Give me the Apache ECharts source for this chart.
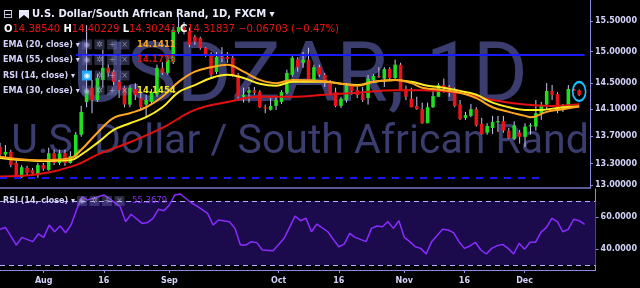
<!DOCTYPE html>
<html><head><meta charset="utf-8">
<script src="https://cdn.jsdelivr.net/npm/echarts@6/dist/echarts.min.js"></script>
<style>html,body{margin:0;padding:0;background:#000;}#c{width:640px;height:288px;}</style>
</head><body><div id="c"></div>
<script>
// ---------- data ----------
const opens  = [13.54,13.43,13.47,13.31,13.11,13.24,13.21,13.14,13.28,13.21,13.45,13.31,13.45,13.31,13.40,13.72,14.21,14.43,14.24,14.55,
14.74,14.68,14.52,14.43,14.17,14.41,14.27,14.17,14.21,14.32,14.74,14.66,14.83,15.32,15.40,15.32,15.24,15.22,15.06,14.95,
14.675,14.91,14.91,14.90,14.63,14.29,14.35,14.39,14.36,14.13,14.09,14.15,14.21,14.35,14.63,14.87,14.82,14.87,14.55,14.75,
14.63,14.50,14.36,14.15,14.24,14.46,14.39,14.33,14.27,14.55,14.61,14.57,14.72,14.58,14.79,14.41,14.26,14.15,14.10,13.89,
14.13,14.29,14.47,14.44,14.39,14.17,13.97,14.00,14.10,13.88,13.75,13.82,13.91,13.92,13.78,13.66,13.75,13.69,13.85,13.84,
14.04,14.17,14.38,14.33,14.10,14.15,14.41,14.3854];
const highs  = [13.60,13.57,13.50,13.35,13.28,13.27,13.24,13.31,13.31,13.53,13.50,13.50,13.50,13.48,13.76,14.15,15.43,14.55,14.64,15.03,
14.79,14.71,14.55,14.46,14.47,14.50,14.35,14.32,14.41,14.79,14.83,14.95,15.40,15.57,15.48,15.39,15.27,15.24,15.07,14.99,
14.99,15.07,14.99,14.93,14.66,14.43,14.44,14.44,14.39,14.17,14.27,14.29,14.39,14.71,14.95,14.91,14.99,15.06,14.79,14.79,
14.66,14.55,14.43,14.29,14.50,14.47,14.44,14.44,14.63,14.64,14.75,14.75,14.75,14.87,14.82,14.46,14.43,14.29,14.20,14.20,
14.43,14.50,14.57,14.47,14.43,14.24,14.06,14.18,14.13,13.97,13.89,14.00,14.00,14.00,13.82,13.92,13.79,13.89,13.89,14.24,
14.21,14.50,14.47,14.36,14.18,14.47,14.43,14.40229];
const lows   = [13.40,13.38,13.25,13.10,13.10,13.14,13.13,13.10,13.20,13.20,13.28,13.28,13.27,13.30,13.38,13.69,14.13,14.04,14.21,14.43,
14.60,14.47,14.27,14.13,14.13,14.24,14.09,13.97,14.18,14.29,14.63,14.63,14.80,15.29,15.28,15.07,15.11,15.03,14.91,14.60,
14.64,14.83,14.82,14.60,14.26,14.20,14.20,14.32,14.12,14.04,14.08,14.09,14.18,14.33,14.60,14.68,14.74,14.55,14.52,14.60,
14.44,14.32,14.13,14.12,14.20,14.32,14.27,14.21,14.17,14.50,14.58,14.44,14.55,14.55,14.38,14.24,14.13,14.09,13.88,13.89,
14.12,14.29,14.35,14.29,14.13,13.94,13.94,13.98,13.84,13.72,13.72,13.73,13.76,13.75,13.66,13.64,13.59,13.54,13.72,13.78,
13.94,14.09,14.24,14.04,14.06,14.13,14.38,14.30241];
const closes = [13.43,13.47,13.28,13.11,13.25,13.17,13.16,13.28,13.23,13.45,13.31,13.45,13.31,13.41,13.72,14.06,14.39,14.24,14.58,14.74,
14.66,14.52,14.39,14.17,14.43,14.32,14.13,14.24,14.36,14.74,14.66,14.87,15.35,15.40,15.32,15.11,15.16,15.06,14.95,14.63,
14.913,14.90,14.88,14.63,14.29,14.32,14.39,14.35,14.13,14.12,14.15,14.24,14.36,14.66,14.90,14.75,14.87,14.55,14.75,14.63,
14.50,14.35,14.15,14.26,14.46,14.38,14.32,14.24,14.57,14.61,14.60,14.72,14.58,14.79,14.39,14.29,14.13,14.10,13.89,14.13,
14.30,14.47,14.44,14.38,14.15,13.95,14.01,14.10,13.86,13.73,13.85,13.91,13.92,13.78,13.67,13.86,13.69,13.84,13.86,14.04,
14.15,14.38,14.32,14.09,14.15,14.41,14.38,14.31837];
// EMA readings: [candle index, value]
const ema20 = [[0,13.40],[7,13.35],[13,13.38],[15,13.50],[18,13.75],[21,13.97],[24,14.04],[27,14.13],[30,14.29],[33,14.52],[36,14.68],[39,14.75],[42,14.79],[45,14.68],[48,14.55],[51,14.50],[54,14.55],[60,14.53],[63,14.49],[66,14.46],[69,14.52],[73,14.55],[76,14.50],[78,14.43],[82,14.39],[85,14.35],[88,14.27],[91,14.13],[94,14.06],[97,14.00],[98,13.98],[101,14.06],[104,14.10],[107,14.1411]];
const ema30 = [[0,13.38],[7,13.34],[13,13.35],[15,13.43],[18,13.60],[21,13.79],[24,13.89],[27,13.98],[30,14.13],[33,14.36],[36,14.47],[39,14.58],[42,14.63],[45,14.58],[48,14.49],[51,14.46],[54,14.52],[60,14.52],[63,14.49],[66,14.47],[69,14.52],[73,14.55],[76,14.52],[79,14.46],[82,14.43],[85,14.38],[88,14.32],[91,14.20],[94,14.13],[97,14.09],[100,14.09],[103,14.12],[107,14.1454]];
const ema55 = [[0,13.12],[6,13.14],[14,13.28],[18,13.43],[24,13.61],[30,13.82],[36,14.09],[42,14.21],[48,14.29],[54,14.29],[60,14.32],[66,14.35],[73,14.39],[78,14.39],[85,14.35],[91,14.24],[97,14.17],[102,14.15],[107,14.1773]];
const rsi = [[0,52.3],[1,53.5],[3,42.5],[4,47.3],[6,44.6],[7,49.4],[8,47.3],[9,55],[10,50.8],[11,54.4],[12,50.2],[13,55],[14,64.4],[15,72.7],[16,70.6],[18,72.7],[19,73.8],[20,71.7],[22,66.4],[23,57.1],[24,61.7],[26,56.0],[27,56.5],[28,59.2],[29,64.8],[30,63.9],[31,67.5],[32,73.8],[33,74.4],[35,68.9],[36,66.9],[38,62.3],[39,55],[40,58.1],[42,57.1],[43,52.9],[44,42.5],[45,42.5],[46,44.6],[47,44],[48,39.4],[50,38.9],[52,46.7],[54,60.6],[55,57.7],[56,59.2],[57,50.8],[58,55.6],[60,50.8],[61,46.0],[62,41.4],[63,43.1],[64,49.8],[65,47.3],[67,44.6],[68,52.9],[69,54.4],[70,53.9],[71,57.1],[72,52.9],[73,57.7],[74,47.3],[75,44.6],[76,41.4],[77,40.4],[78,36.9],[79,44.6],[81,52.3],[82,51.9],[83,50.2],[84,44.6],[85,40.4],[86,41.9],[87,44.2],[88,39.4],[89,36.9],[90,40.4],[91,42.1],[92,42.9],[93,40.4],[94,36.9],[95,43.6],[96,39.8],[97,44.2],[98,44.2],[99,50.4],[100,53.5],[101,59.2],[102,57.1],[103,50.8],[104,52.3],[105,58.6],[106,57.7],[107,55.37]];
const priceTicks = [15.5, 15.0, 14.5, 14.1, 13.7, 13.3, 13.0];
const rsiTicks = [60, 40];
const xTickDates = ['2018-08-01','2018-08-16','2018-09-03','2018-10-01','2018-10-16','2018-11-01','2018-11-16','2018-12-03'];
const xTickLabels = ['Aug','16','Sep','Oct','16','Nov','16','Dec'];
const levelRed = 13.663, levelBlue = 14.953, levelBlueDash = 13.10;
const lastClose = 14.31837;

// ---------- categories (weekdays) ----------
const dates = [];
(function(){ const d = new Date(Date.UTC(2018,6,20)); while (dates.length < 110) { const w = d.getUTCDay(); if (w !== 0 && w !== 6) dates.push(d.toISOString().slice(0,10)); d.setUTCDate(d.getUTCDate()+1); } })();

const L = Math.log;
const candleData = opens.map((o,i)=>[i, L(o), L(closes[i]), L(lows[i]), L(highs[i])]);
const toLog = arr => arr.map(p=>[p[0], L(p[1])]);

function renderCandle(params, api){
  const i = api.value(0);
  const pO = api.coord([i, api.value(1)]), pC = api.coord([i, api.value(2)]);
  const pL = api.coord([i, api.value(3)]), pH = api.coord([i, api.value(4)]);
  const bw = api.size([1,0])[0]*0.66;
  const up = api.value(2) >= api.value(1);
  const top = Math.min(pO[1], pC[1]), bot = Math.max(pO[1], pC[1]);
  return {type:'group', children:[
    {type:'line', shape:{x1:pH[0], y1:pH[1], x2:pL[0], y2:pL[1]}, style:{stroke:'#c8c8f6', lineWidth:1}},
    {type:'rect', shape:{x:pO[0]-bw/2, y:top, width:bw, height:Math.max(bot-top,1.2)}, style:{fill: up ? '#1fe01f' : '#e8141a'}}
  ]};
}

const FONT = 'DejaVu Sans';
const lav = '#d2d2fa';
const tickFn = (idx, val) => xTickDates.indexOf(val) >= 0;

const chart = echarts.init(document.getElementById('c'), null, {renderer:'canvas'});

const wm = '#3a3d6e';
function icons(x, y, hl){
  const out = [];
  for (let k=0;k<4;k++){
    out.push({type:'rect', z:50, shape:{x:x+k*12.5, y:y-5, width:10, height:10}, style:{fill: (hl && k===0) ? '#22aaff' : 'rgba(120,120,190,0.35)'}});
    out.push({type:'text', z:51, style:{x:x+k*12.5+5, y:y, text:['◉','✲','+','×'][k], fill: (hl && k===0)?'#e0f4ff':'rgba(200,200,240,0.6)', font:'8px '+FONT, align:'center', verticalAlign:'middle'}});
  }
  return out;
}
const rowText = (x,y,t,c,f) => ({type:'text', z:52, style:{x:x, y:y, text:t, fill:c, font:f||('bold 8px '+FONT), verticalAlign:'middle'}});

chart.setOption({
  backgroundColor:'#000000',
  animation:false,
  grid:[
    {left:-1.3, right:38, top:0, height:188},
    {left:-1.3, right:38, top:189, height:81}
  ],
  xAxis:[
    {type:'category', gridIndex:0, data:dates, boundaryGap:false, axisLine:{show:true, lineStyle:{color:'#7878c8', width:1.5}}, axisTick:{show:false}, axisLabel:{show:false}, splitLine:{show:false}},
    {type:'category', gridIndex:1, data:dates, boundaryGap:false,
      axisLine:{show:true, lineStyle:{color:'#8c8ce6', width:1}},
      axisTick:{show:true, interval:tickFn, length:3, lineStyle:{color:'#8c8ce6'}},
      axisLabel:{show:true, interval:tickFn, formatter:(v)=>xTickLabels[xTickDates.indexOf(v)], color:lav, fontFamily:FONT, fontSize:8, fontWeight:'bold', margin:7},
      splitLine:{show:false}}
  ],
  yAxis:[
    {type:'value', gridIndex:0, position:'right', min:L(12.958), max:L(15.852),
      axisLine:{show:true, lineStyle:{color:'#8c8ce6'}},
      axisTick:{show:true, customValues:priceTicks.map(L), length:3, lineStyle:{color:'#8c8ce6'}},
      axisLabel:{show:true, customValues:priceTicks.map(L), formatter:(v)=>Math.exp(v).toFixed(5), color:lav, fontFamily:FONT, fontSize:8, fontWeight:'bold', margin:5},
      splitLine:{show:false}},
    {type:'value', gridIndex:1, position:'right', min:26.9, max:77.5,
      axisLine:{show:true, lineStyle:{color:'#8c8ce6'}},
      axisTick:{show:true, customValues:rsiTicks, length:3, lineStyle:{color:'#8c8ce6'}},
      axisLabel:{show:true, customValues:rsiTicks, formatter:(v)=>v.toFixed(4), color:lav, fontFamily:FONT, fontSize:8, fontWeight:'bold', margin:5},
      splitLine:{show:false}}
  ],
  series:[
    {type:'line', xAxisIndex:0, yAxisIndex:0, data:[], silent:true, z:1,
      markLine:{silent:true, symbol:'none', precision:8, label:{show:false},
        data:[
          [{coord:[-1, L(levelRed)], lineStyle:{color:'#ff1a1a', width:2, type:'solid'}},{coord:[109, L(levelRed)]}],
          [{coord:[14, L(levelBlue)], lineStyle:{color:'#1a1aff', width:2, type:'solid'}},{coord:[108, L(levelBlue)]}],
          [{coord:[0, L(levelBlueDash)], lineStyle:{color:'#1a1aee', width:2, type:[7,7]}},{coord:[100, L(levelBlueDash)]}]
        ]}},
    {type:'custom', name:'USDZAR', xAxisIndex:0, yAxisIndex:0, data:candleData, renderItem:renderCandle, encode:{x:0, y:[1,2,3,4]}, z:3, clip:true},
    {type:'line', name:'EMA55', data:toLog(ema55), smooth:0.4, showSymbol:false, lineStyle:{color:'#e41010', width:2}, z:4,
      markLine:{silent:true, symbol:'none', precision:8, lineStyle:{opacity:0},
        label:{show:true, position:'end', distance:0, formatter:'- '+lastClose.toFixed(5), color:'#ffffff', backgroundColor:'#ee1111', padding:[2,3,2,2], fontFamily:FONT, fontSize:8, fontWeight:'bold'},
        data:[{yAxis:L(lastClose)}]},
      markPoint:{silent:true, symbol:'circle', symbolSize:[13,19], label:{show:false}, itemStyle:{color:'rgba(0,0,0,0)', borderColor:'#19c3ff', borderWidth:2},
        data:[{coord:[107, L(14.37)]}]}},
    {type:'line', name:'EMA30', data:toLog(ema30), smooth:0.4, showSymbol:false, lineStyle:{color:'#ffee22', width:2}, z:5},
    {type:'line', name:'EMA20', data:toLog(ema20), smooth:0.4, showSymbol:false, lineStyle:{color:'#ffa51f', width:2}, z:6},
    {type:'line', name:'RSI', xAxisIndex:1, yAxisIndex:1, data:rsi, smooth:false, showSymbol:false, lineStyle:{color:'#8a2cff', width:1.5}, z:5,
      markArea:{silent:true, itemStyle:{color:'#1c0b4c'}, data:[[{yAxis:30},{yAxis:70}]]},
      markLine:{silent:true, symbol:'none', label:{show:false}, lineStyle:{color:'#b8acff', type:[5,4], width:1}, data:[{yAxis:30},{yAxis:70}]}}
  ],
  graphic:[
    {type:'text', z:0, silent:true, style:{x:300, y:80, text:'USDZAR, 1D', fill:wm, font:'84px Roboto', align:'center', verticalAlign:'middle'}},
    {type:'text', z:0, silent:true, style:{x:300, y:143, text:'U.S. Dollar / South African Rand', fill:wm, font:'41px Roboto', align:'center', verticalAlign:'middle'}},
    rowText(3,14.5,'⊟','#e0e0ff','12px '+FONT),
    {type:'polygon', z:52, shape:{points:[[19,10],[29,10],[29,19],[24,15],[19,19]]}, style:{fill:'#e8e8ff'}},
    rowText(32,14.5,'U.S. Dollar/South African Rand, 1D, FXCM ▾','#ececff','bold 10px '+FONT),
    {type:'text', z:52, style:{x:4, y:29.5, verticalAlign:'middle', font:'10px '+FONT,
      text:'{w|O}{r|14.38540} {w|H}{r|14.40229} {w|L}{r|14.30241} {w|C}{r|14.31837} {r|−0.06703 (−0.47%)}',
      rich:{w:{fill:'#ffffff', font:'bold 10px '+FONT}, r:{fill:'#e81418', font:'10px '+FONT}}}},
    rowText(3,44.5,'EMA (20, close) ▾',lav), ...icons(82,44.5,false), rowText(137,44.5,'14.1411','#ffa51f','bold 8.5px '+FONT),
    rowText(3,60,'EMA (55, close) ▾',lav), ...icons(82,60,false), rowText(137,60,'14.1773','#d01414','bold 8.5px '+FONT),
    rowText(3,75.5,'RSI (14, close) ▾',lav), ...icons(82,75.5,true),
    rowText(3,90.5,'EMA (30, close) ▾',lav), ...icons(82,90.5,false), rowText(137,90.5,'14.1454','#f5e61a','bold 8.5px '+FONT),
    rowText(3,201,'RSI (14, close) ▾',lav), ...icons(77,201,false), rowText(132,201,'55.3679','#8a2cff','8.5px '+FONT)
  ]
});
</script></body></html>
